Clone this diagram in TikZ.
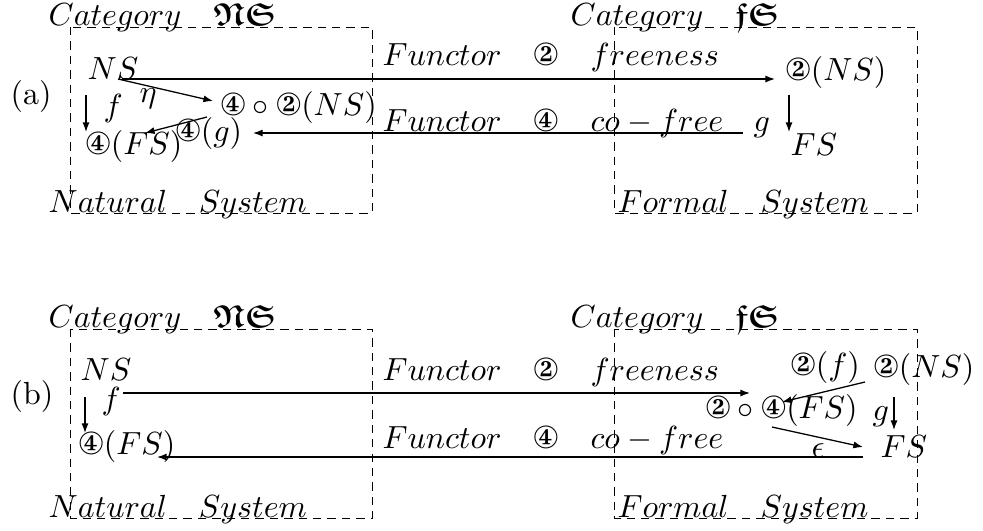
\documentclass[tikz,border=0pt]{standalone}
\usepackage{amssymb}
\usepackage{bm}
\usepackage{pifont}
\usetikzlibrary{arrows.meta}
\newcommand{\cTwo}{\mbox{\ding{173}}}
\newcommand{\cFour}{\mbox{\ding{175}}}
\begin{document}
\begin{tikzpicture}[x=0.3125pt,y=-0.3125pt,
  lbl/.style={inner sep=0pt, anchor=base west},
  map/.style={-{Latex[length=3pt,width=2.2pt]}},
  frame/.style={line width=0.3pt, dash pattern=on 2.6pt off 1.9pt}]
\useasboundingbox (0,0) rectangle (983,530);

% ---------- (a) ----------
\draw[frame] (70,27) rectangle (372,213);
\draw[frame] (614,27) rectangle (917,213);
\node[lbl] (tagA) at (10,104) {(a)};
\node[lbl] (catNSa) at (48,25) {$Category\quad\bm{\mathfrak{NS}}$};
\node[lbl] (natA) at (48,212) {$Natural\quad System$};
\node[lbl] (catFSa) at (570,25) {$Category\quad\bm{\mathfrak{fS}}$};
\node[lbl] (formA) at (617,212) {$Formal\quad System$};

\node[lbl] (NSa) at (87,79) {$NS$};
\node[lbl] (fa) at (103,116) {$f$};
\node[lbl] (etaa) at (139,102) {$\eta$};
\node[lbl] (compa) at (220,115) {$\cFour\circ\cTwo(NS)$};
\node[lbl] (FSa) at (85,154) {$\cFour(FS)$};
\node[lbl] (ga4) at (175,141) {$\cFour(g)$};
\node[lbl] (funTa) at (382,65) {$Functor\quad\cTwo\quad freeness$};
\node[lbl] (funBa) at (382,131) {$Functor\quad\cFour\quad co-free$};
\node[lbl] (NSra) at (785,80) {$\cTwo(NS)$};
\node[lbl] (ga) at (753,131) {$g$};
\node[lbl] (FSra) at (790,155) {$FS$};

\draw[map] ([shift={(35,0)}]NSa.base west) -- ([shift={(-10,-1)}]NSra.base west);
\draw[map] ([shift={(31,0)}]NSa.base west) -- ([shift={(-7,-14)}]compa.base west);
\draw[map] ([shift={(-1,16)}]NSa.base west) -- ([shift={(1,-22)}]FSa.base west);
\draw[map] ([shift={(-13,2)}]compa.base west) -- ([shift={(60,-21)}]FSa.base west);
\draw[map] ([shift={(-10,2)}]ga.base west) -- ([shift={(78,-8)}]ga4.base west);
\draw[map] ([shift={(4,15)}]NSra.base west) -- ([shift={(-1,-23)}]FSra.base west);

% ---------- (b) ----------
\draw[frame] (70,329) rectangle (372,518);
\draw[frame] (614,329) rectangle (917,518);
\node[lbl] (tagB) at (10,404) {(b)};
\node[lbl] (catNSb) at (48,327) {$Category\quad\bm{\mathfrak{NS}}$};
\node[lbl] (natB) at (48,517) {$Natural\quad System$};
\node[lbl] (catFSb) at (570,327) {$Category\quad\bm{\mathfrak{fS}}$};
\node[lbl] (formB) at (617,517) {$Formal\quad System$};

\node[lbl] (NSb) at (80,380) {$NS$};
\node[lbl] (fb) at (101,409) {$f$};
\node[lbl] (FSb) at (78,454) {$\cFour(FS)$};
\node[lbl] (funTb) at (382,380) {$Functor\quad\cTwo\quad freeness$};
\node[lbl] (funBb) at (382,448) {$Functor\quad\cFour\quad co-free$};
\node[lbl] (ftwo) at (790,375) {$\cTwo(f)$};
\node[lbl] (NSrb) at (873,377) {$\cTwo(NS)$};
\node[lbl] (compb) at (705,418) {$\cTwo\circ\cFour(FS)$};
\node[lbl] (gb) at (872,420) {$g$};
\node[lbl] (FSrb) at (880,457) {$FS$};
\node[lbl] (epsb) at (811,457) {$\epsilon$};

\draw[map] ([shift={(22,-16)}]fb.base west) -- ([shift={(45,-25)}]compb.base west);
\draw[map] ([shift={(5,17)}]NSb.base west) -- ([shift={(7,-21)}]FSb.base west);
\draw[map] ([shift={(-17,0)}]FSrb.base west) -- ([shift={(79,3)}]FSb.base west);
\draw[map] ([shift={(-8,5)}]NSrb.base west) -- ([shift={(77,-16)}]compb.base west);
\draw[map] ([shift={(67,9)}]compb.base west) -- ([shift={(-17,-10)}]FSrb.base west);
\draw[map] ([shift={(21,20)}]NSrb.base west) -- ([shift={(14,-27)}]FSrb.base west);
\end{tikzpicture}
\end{document}
